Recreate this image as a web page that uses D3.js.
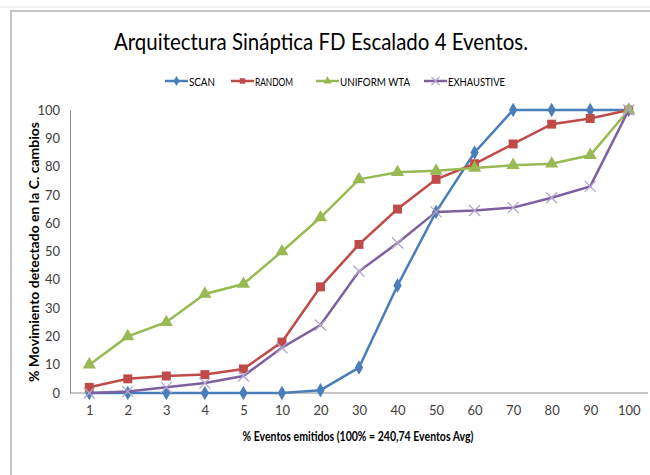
<!DOCTYPE html>
<meta charset="utf-8">
<style>
    body { margin: 0; background: #fff; }
    text { font-family: Lato, "Open Sans", sans-serif; }
</style>
<body>
<script src="https://cdn.jsdelivr.net/npm/d3@7"></script>
<script>

var categories = ["1", "2", "3", "4", "5", "10", "20", "30", "40", "50", "60", "70", "80", "90", "100"];
var yTicks = [0, 10, 20, 30, 40, 50, 60, 70, 80, 90, 100];

var scan       = [0, 0, 0, 0, 0, 0, 1, 9, 38, 64, 85, 100, 100, 100, 100];
var random     = [2, 5, 6, 6.5, 8.5, 18, 37.5, 52.5, 65, 75.5, 81, 88, 95, 97, 100];
var uniformWta = [10, 20, 25, 35, 38.5, 50, 62, 75.5, 78, 78.5, 79.5, 80.5, 81, 84, 100];
var exhaustive = [0, 0.5, 2, 3.5, 6, 16, 24, 43, 53, 64, 64.5, 65.5, 69, 73, 100];

var seriesNames = ["SCAN", "RANDOM", "UNIFORM WTA", "EXHAUSTIVE"];
var seriesColors = ["#4a7ebb", "#be4b48", "#98b954", "#7d60a0"];
var seriesValues = [scan, random, uniformWta, exhaustive];
var seriesMarkers = ["diamond", "square", "triangle", "cross"];

var width = 650, height = 475;
var margin = {top: 110, right: 2, bottom: 82, left: 70};

var svg = d3.select("body").append("svg")
    .attr("width", width)
    .attr("height", height);

// sheet background remnants + chart frame
svg.append("line")
    .attr("x1", 0).attr("x2", width).attr("y1", 7).attr("y2", 7)
    .style("stroke", "#e6e6e6").style("stroke-width", 1);
svg.append("rect")
    .attr("x", 11).attr("y", 11)
    .attr("width", width + 20).attr("height", height + 20)
    .style("fill", "#fff")
    .style("stroke", "#c4c4c4")
    .style("stroke-width", 2);

svg.append("text")
    .attr("x", 321).attr("y", 50)
    .attr("text-anchor", "middle")
    .attr("textLength", 414)
    .attr("lengthAdjust", "spacingAndGlyphs")
    .style("font-size", "23px")
    .style("fill", "#000")
    .text("Arquitectura Sináptica FD Escalado 4 Eventos.");

var x = d3.scalePoint()
    .domain(categories)
    .range([margin.left, width - margin.right])
    .padding(0.5);

var y = d3.scaleLinear()
    .domain([0, 100])
    .range([height - margin.bottom, margin.top]);

var g = svg.append("g");

// axes
var xAxis = g.append("g")
    .attr("transform", "translate(0," + y(0) + ")")
    .call(d3.axisBottom(x).tickSize(0).tickPadding(13));
xAxis.select(".domain").attr("d", "M" + margin.left + ",0H" + (width - 2))
    .style("stroke", "#8c8c8c").style("stroke-width", 1);

var yAxis = g.append("g")
    .attr("transform", "translate(" + margin.left + ",0)")
    .call(d3.axisLeft(y).tickValues(yTicks).tickSize(0).tickPadding(10));
yAxis.select(".domain").style("stroke", "#8c8c8c").style("stroke-width", 1);

g.selectAll(".tick text")
    .style("font-size", "13px")
    .style("fill", "#404040")
    .style("font-family", "Lato, sans-serif");

svg.append("text")
    .attr("transform", "translate(39," + 252 + ") rotate(-90)")
    .attr("text-anchor", "middle")
    .attr("textLength", 260)
    .attr("lengthAdjust", "spacingAndGlyphs")
    .style("font-size", "13.5px")
    .style("font-weight", "bold")
    .style("fill", "#000")
    .text("% Movimiento detectado en la C. cambios");

svg.append("text")
    .attr("x", 358).attr("y", 441)
    .attr("text-anchor", "middle")
    .attr("textLength", 231)
    .attr("lengthAdjust", "spacingAndGlyphs")
    .style("font-size", "12.5px")
    .style("font-weight", "bold")
    .style("fill", "#000")
    .text("% Eventos emitidos (100% = 240,74 Eventos Avg)");

function drawMarker(sel, type, color, size) {
  if (type === "cross") {
    var s = size / 2;
    sel.append("path")
      .attr("d", "M" + (-s) + "," + (-s) + "L" + s + "," + s + "M" + (-s) + "," + s + "L" + s + "," + (-s))
      .style("stroke", "#b3a5cc").style("stroke-width", 1.3).style("fill", "none");
  } else {
    var sym = {diamond: d3.symbolDiamond, square: d3.symbolSquare, triangle: d3.symbolTriangle}[type];
    var area = {diamond: 60, square: 80, triangle: 75}[type];
    sel.append("path")
      .attr("d", d3.symbol().type(sym).size(area)())
      .style("fill", color);
  }
}

var line = d3.line()
    .x(function(d, i) { return x(categories[i]); })
    .y(function(d) { return y(d); });

seriesValues.forEach(function(vals, k) {
  var sg = svg.append("g");
  sg.append("path")
      .datum(vals)
      .attr("d", line)
      .style("fill", "none")
      .style("stroke", seriesColors[k])
      .style("stroke-width", 2.5);
  sg.selectAll(".m")
      .data(vals)
    .enter().append("g")
      .attr("transform", function(d, i) { return "translate(" + x(categories[i]) + "," + y(d) + ")"; })
      .each(function() { drawMarker(d3.select(this), seriesMarkers[k], seriesColors[k], 11); });
});

// legend
var legendX = [165, 231, 316, 424];
var legendLen = [26, 38, 70, 57];
seriesNames.forEach(function(name, k) {
  var lg = svg.append("g").attr("transform", "translate(" + legendX[k] + ",81)");
  lg.append("line").attr("x1", 0).attr("x2", 23).attr("y1", 0).attr("y2", 0)
    .style("stroke", seriesColors[k]).style("stroke-width", 2.5);
  var mk = lg.append("g").attr("transform", "translate(11.5,0)");
  if (seriesMarkers[k] === "cross") {
    mk.append("path").attr("d", "M-4,-4L4,4M-4,4L4,-4")
      .style("stroke", "#b3a5cc").style("stroke-width", 1.2).style("fill", "none");
  } else {
    var sym = {diamond: d3.symbolDiamond, square: d3.symbolSquare, triangle: d3.symbolTriangle}[seriesMarkers[k]];
    mk.append("path").attr("d", d3.symbol().type(sym).size(30)()).style("fill", seriesColors[k]);
  }
  lg.append("text").attr("x", 24).attr("y", 4.5)
    .attr("textLength", legendLen[k])
    .attr("lengthAdjust", "spacingAndGlyphs")
    .style("font-size", "12px")
    .style("fill", "#000")
    .text(name);
});

</script>
</body>
